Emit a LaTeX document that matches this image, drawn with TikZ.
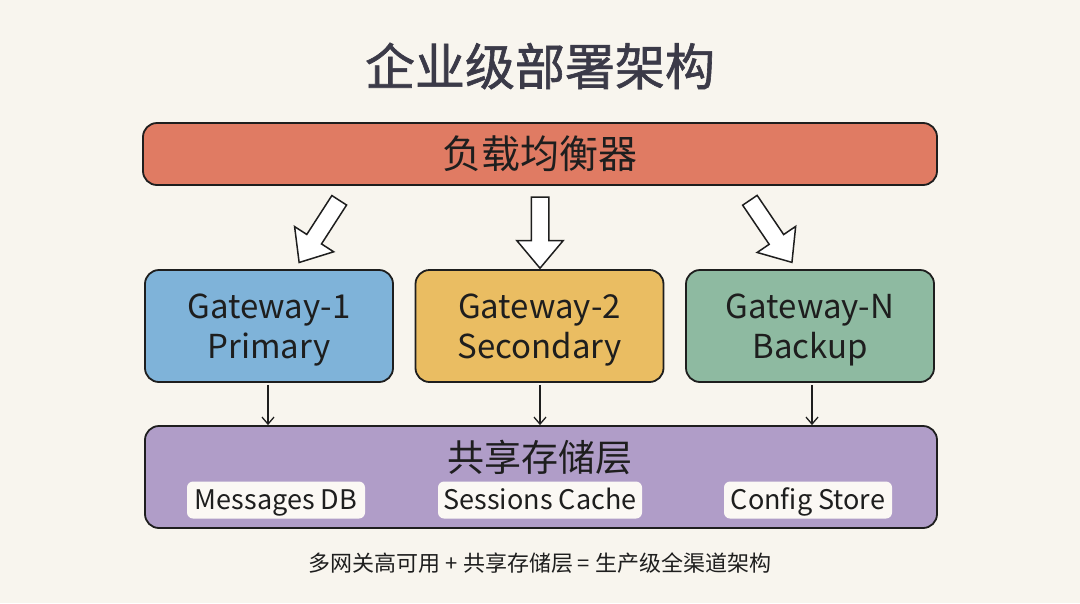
\documentclass[tikz,border=0pt]{standalone}
\usepackage{fontspec}
\setmainfont{Noto Sans CJK SC}
\newfontfamily\titlefont[FakeBold=1.2]{Noto Sans CJK SC}
\usetikzlibrary{shapes.arrows,arrows.meta}
\definecolor{bg}{HTML}{F8F5EE}
\definecolor{titlec}{HTML}{3B3A48}
\definecolor{lbc}{HTML}{E07B63}
\definecolor{gw1c}{HTML}{7FB3D9}
\definecolor{gw2c}{HTML}{EABD62}
\definecolor{gw3c}{HTML}{8EBAA1}
\definecolor{stc}{HTML}{B09DC8}
\definecolor{itemc}{HTML}{FBF8F4}
\definecolor{inkc}{HTML}{1E1E1E}
\tikzset{
  box/.style={draw=inkc, line width=1.8pt, rounded corners=14pt, align=center, text=inkc},
  gwbox/.style={box, minimum width=248pt, minimum height=112pt},
  gwtext/.style={yshift=-4pt, align=center, text=inkc, font=\fontsize{33}{40}\selectfont},
  item/.style={fill=itemc, rounded corners=6pt, minimum height=37pt, inner sep=0pt,
     text height=21pt, text depth=3pt, font=\fontsize{27}{30}\selectfont, text=inkc},
  bigarrow/.style={draw=inkc, line width=1.5pt, fill=white, single arrow, inner sep=8pt,
     single arrow head extend=14.5pt, single arrow tip angle=80, single arrow head indent=0pt},
  thinarrow/.style={draw=inkc, line width=1.3pt, -{Straight Barb[length=7pt,width=12pt]}, shorten <=2pt}
}
\begin{document}
\begin{tikzpicture}[x=1pt,y=-1pt]
\fill[bg] (0,0) rectangle (1080,603);
\useasboundingbox (0,0) rectangle (1080,603);

\node[text=titlec, font=\fontsize{50}{55}\selectfont\titlefont] (title) at (540,66) {企业级部署架构};

\node[box, fill=lbc, minimum width=794pt, minimum height=62pt, font=\fontsize{39}{44}\selectfont] (lb) at (540,154) {负载均衡器};

\node[gwbox, fill=gw1c, label={[gwtext]center:Gateway-1\\Primary}] (g1) at (269,326) {};
\node[gwbox, fill=gw2c, label={[gwtext]center:Gateway-2\\Secondary}] (g2) at (539.5,326) {};
\node[gwbox, fill=gw3c, label={[gwtext]center:Gateway-N\\Backup}] (g3) at (810,326) {};

\node[box, fill=stc, minimum width=792pt, minimum height=102pt] (st) at (541,477) {};
\node[font=\fontsize{37}{40}\selectfont, text=inkc] (sttitle) at (540,457) {共享存储层};
\node[item, minimum width=178pt] (i1) at (276,500) {Messages DB};
\node[item, minimum width=204pt] (i2) at (540,500) {Sessions Cache};
\node[item, minimum width=168pt] (i3) at (808,500) {Config Store};

\node[font=\fontsize{22}{26}\selectfont, text=inkc] (foot) at (540,563) {多网关高可用 + 共享存储层 = 生产级全渠道架构};

% big hollow arrows
\coordinate (a1s) at (342,196); \coordinate (a1e) at (302,258);
\coordinate (a2s) at (540,192); \coordinate (a2e) at (540,263);
\coordinate (a3s) at (747,196); \coordinate (a3e) at (789,258);
\path (a1s) -- (a1e) node[midway, rotate=-122.8, bigarrow, minimum height=74pt] (ar1) {};
\path (a2s) -- (a2e) node[midway, rotate=-90, bigarrow, minimum height=71pt] (ar2) {};
\path (a3s) -- (a3e) node[midway, rotate=-55.9, bigarrow, minimum height=75pt] (ar3) {};

% thin arrows
\draw[thinarrow] (g1.south -| 268,0) -- (st.north -| 268,0);
\draw[thinarrow] (g2.south -| 540,0) -- (st.north -| 540,0);
\draw[thinarrow] (g3.south -| 812,0) -- (st.north -| 812,0);
\end{tikzpicture}
\end{document}
